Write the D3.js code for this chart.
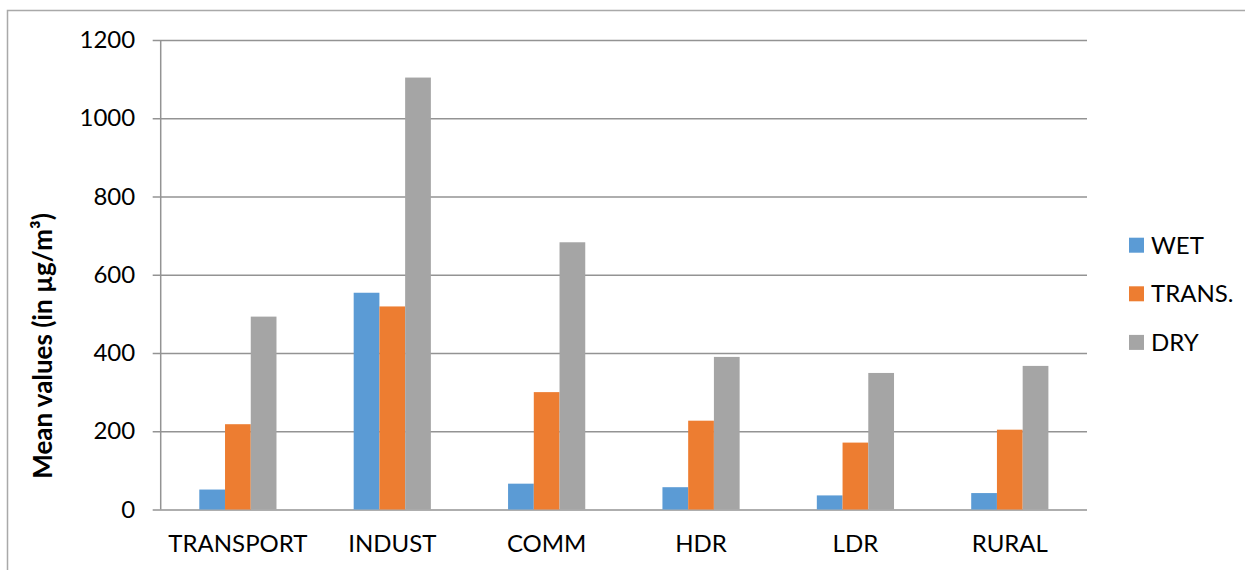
<!DOCTYPE html>
<html>
<head>
<meta charset="utf-8">
<script src="https://cdn.jsdelivr.net/npm/d3@7"></script>
<style>
  html, body { margin: 0; padding: 0; background: #fff; }
  svg text { font-family: Lato, "Open Sans", sans-serif; fill: #000; }
</style>
</head>
<body>
<svg width="1245" height="570"></svg>
<script>
const categories = ['TRANSPORT', 'INDUST', 'COMM', 'HDR', 'LDR', 'RURAL'];
const seriesNames = ['WET', 'TRANS.', 'DRY'];
const wetValues = [51, 554, 66, 57, 36, 42];
const transValues = [218, 519, 300, 227, 171, 204];
const dryValues = [493, 1104, 683, 390, 349, 367];
const yTicks = [0, 200, 400, 600, 800, 1000, 1200];
const colors = ['#5B9BD5', '#ED7D31', '#A5A5A5'];

const seriesValues = [wetValues, transValues, dryValues];

const svg = d3.select('svg');

// chart border (only top & left visible in frame)
svg.append('rect')
  .attr('x', 7.5).attr('y', 10.5)
  .attr('width', 1300).attr('height', 600)
  .attr('fill', 'none')
  .attr('stroke', '#a9a9a9')
  .attr('stroke-width', 1.5);

const plotLeft = 160.7, plotRight = 1087, plotTop = 40, plotBottom = 509.5;

const x0 = d3.scaleBand().domain(categories).range([plotLeft, plotRight]);
const bw = x0.bandwidth();
const x1 = d3.scaleBand().domain(seriesNames).range([bw * 0.25, bw * 0.75]);
const y = d3.scaleLinear().domain([0, 1200]).range([plotBottom, plotTop]);

// gridlines + tick marks + labels in one axis anchored at the right edge
const yAxis = svg.append('g')
  .attr('transform', `translate(${plotRight},0)`)
  .call(d3.axisLeft(y)
    .tickValues(yTicks)
    .tickFormat(d3.format('d'))
    .tickSize(plotRight - 152.7)
    .tickPadding(17.5));
yAxis.select('.domain').remove();
yAxis.selectAll('line').attr('stroke', '#939393').attr('stroke-width', 1.5);
yAxis.selectAll('text')
  .style('font-size', '24px')
  .style('font-family', 'Lato, sans-serif')
  .attr('fill', '#000');

// vertical axis line
svg.append('line')
  .attr('x1', plotLeft).attr('x2', plotLeft)
  .attr('y1', plotTop).attr('y2', plotBottom)
  .attr('stroke', '#939393').attr('stroke-width', 1.5);

// bars
const groups = svg.append('g').selectAll('g')
  .data(categories)
  .join('g')
  .attr('transform', d => `translate(${x0(d)},0)`);

groups.selectAll('rect')
  .data((d, i) => seriesNames.map((s, j) => ({ s, j, v: seriesValues[j][i] })))
  .join('rect')
  .attr('x', d => x1(d.s))
  .attr('width', x1.bandwidth())
  .attr('y', d => y(d.v))
  .attr('height', d => y(0) - y(d.v))
  .attr('fill', d => colors[d.j]);

// category labels
svg.append('g').selectAll('text')
  .data(categories)
  .join('text')
  .attr('x', d => x0(d) + bw / 2)
  .attr('y', 552)
  .attr('text-anchor', 'middle')
  .style('font-size', '24px')
  .text(d => d);

// y axis title
svg.append('text')
  .attr('transform', 'translate(52,346) rotate(-90)')
  .attr('text-anchor', 'middle')
  .style('font-size', '26px')
  .style('font-weight', 'bold')
  .text('Mean values (in µg/m³)');

// legend
const legend = svg.append('g').selectAll('g')
  .data(seriesNames)
  .join('g')
  .attr('transform', (d, i) => `translate(1129,${237.7 + i * 48.6})`);

legend.append('rect')
  .attr('width', 15).attr('height', 15)
  .attr('fill', (d, i) => colors[i]);

legend.append('text')
  .attr('x', 22)
  .attr('y', 16)
  .style('font-size', '24px')
  .text(d => d);
</script>
</body>
</html>
